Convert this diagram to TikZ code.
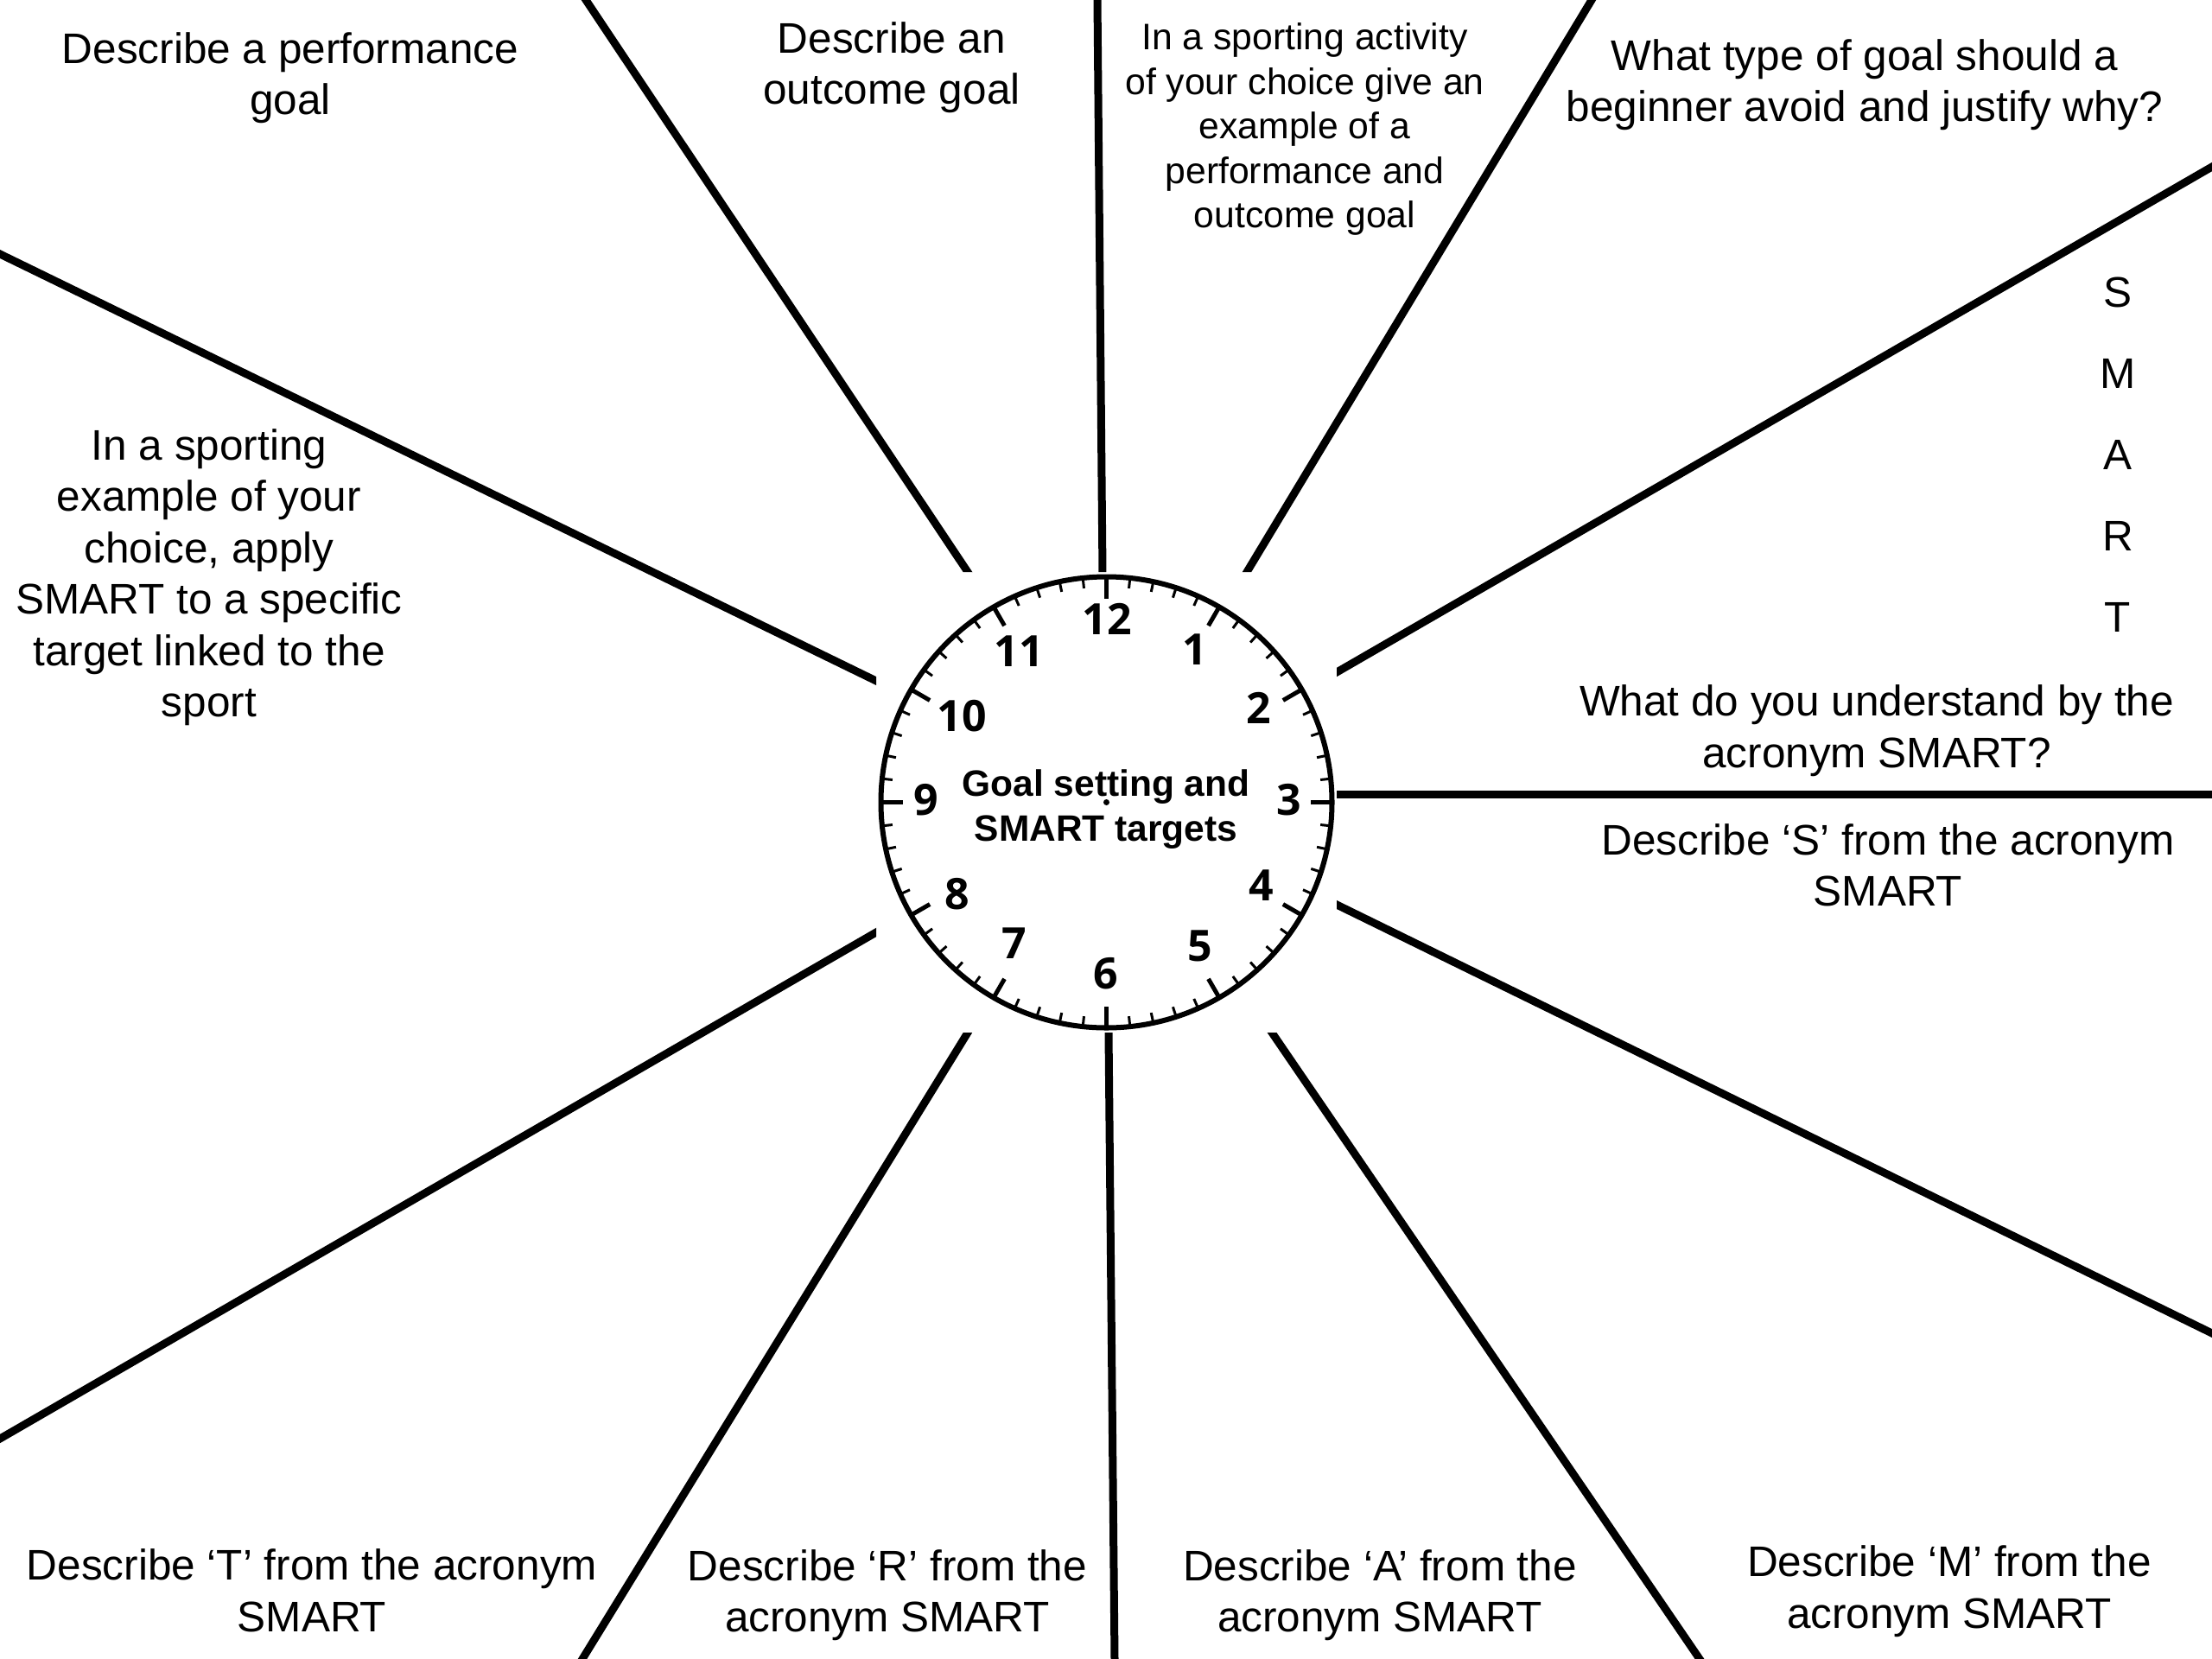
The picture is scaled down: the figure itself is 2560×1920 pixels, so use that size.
\documentclass[tikz,border=0pt]{standalone}
\usepackage{fontspec}
\setmainfont{Liberation Sans}
\newfontfamily\clockfont{Open Sans}
\usetikzlibrary{calc}
\begin{document}
\begin{tikzpicture}[x=1pt,y=-1pt,
  divider/.style={line width=9pt, line cap=butt},
  qtext/.style={font=\fontsize{49.5}{59.5}\selectfont, align=center, inner sep=0pt},
  smalltext/.style={font=\fontsize{42.7}{51.5}\selectfont, align=center, inner sep=0pt},
  clocknum/.style={font=\clockfont\bfseries\fontsize{50}{50}\selectfont, inner sep=0pt},
  minortick/.style={line width=3pt, line cap=butt},
  hourtick/.style={line width=5pt, line cap=butt},
  rim/.style={line width=6pt}]
\useasboundingbox (0,0) rectangle (2560,1920);
\fill[white] (0,0) rectangle (2560,1920);

% dividing lines: outer ends and ends at the clock
\coordinate (o1) at (678,0);     \coordinate (i1) at (1120,662);
\coordinate (o2) at (1270,0);    \coordinate (i2) at (1276,664);
\coordinate (o3) at (1842,0);    \coordinate (i3) at (1443,662);
\coordinate (o4) at (2560,193);  \coordinate (i4) at (1547,778);
\coordinate (o5) at (2560,919);  \coordinate (i5) at (1547,919);
\coordinate (o6) at (2560,1543); \coordinate (i6) at (1547,1047);
\coordinate (o7) at (1967,1920); \coordinate (i7) at (1472,1195);
\coordinate (o8) at (1290,1920); \coordinate (i8) at (1283,1195);
\coordinate (o9) at (674,1920);  \coordinate (i9) at (1120,1195);
\coordinate (o10) at (0,1665);   \coordinate (i10) at (1014,1079);
\coordinate (o11) at (0,294);    \coordinate (i11) at (1014,788);

\begin{scope}[even odd rule]
  \clip (0,0) rectangle (2560,1920) (1547,662) rectangle (1014,1195);
  \foreach \k in {1,...,11}{
    \draw[divider] ($(i\k)!1.05!(o\k)$) -- ($(o\k)!1.15!(i\k)$);
  }
\end{scope}

% clock
\coordinate (c) at (1280.5,928.5);
\draw[rim] (c) circle[radius=261pt];
\foreach \m in {0,...,59}{
  \draw[minortick] ($(c)+(\m*6:261pt)$) -- ($(c)+(\m*6:249pt)$);
}
\foreach \h in {0,...,11}{
  \draw[hourtick] ($(c)+(\h*30:261pt)$) -- ($(c)+(\h*30:236pt)$);
}
\foreach \h/\px/\py in {12/1281/716.5, 1/1383/752, 2/1457/819, 3/1492/926,
                        4/1460/1025, 5/1388.6/1095, 6/1279.5/1127, 7/1174/1092,
                        8/1108/1035, 9/1072/926, 10/1113/829, 11/1179/754}{
  \node[clocknum] (n\h) at (\px,\py) {\h};
}
\fill (c) circle[radius=3.5pt];
\node[font=\bfseries\fontsize{42.5}{52}\selectfont, align=center, inner sep=0pt] (title) at (1280,937) {Goal setting and\\SMART targets};

% question texts
\node[qtext] (qa) at (336,90) {Describe a performance\\goal};
\node[qtext] (qb) at (1032,78) {Describe an\\outcome goal};
\node[smalltext] (qc) at (1510,149.5) {In a sporting activity\\of your choice give an\\example of a\\performance and\\outcome goal};
\node[qtext] (qd) at (2158,98) {What type of goal should a\\beginner avoid and justify why?};
\node[font=\fontsize{49.5}{94}\selectfont, align=center, inner sep=0pt] (qe) at (2451,526.5) {S\\M\\A\\R\\T};
\node[qtext] (qf) at (2172,845.5) {What do you understand by the\\acronym SMART?};
\node[qtext] (qg) at (2185,1001.5) {Describe ‘S’ from the acronym\\SMART};
\node[qtext] (qh) at (242,668) {In a sporting\\example of your\\choice, apply\\SMART to a specific\\target linked to the\\sport};
\node[qtext] (qi) at (361,1841) {Describe ‘T’ from the acronym\\SMART};
\node[qtext] (qj) at (1027,1846) {Describe ‘R’ from the\\acronym SMART};
\node[qtext] (qk) at (1597,1846) {Describe ‘A’ from the\\acronym SMART};
\node[qtext] (ql) at (2256,1841.5) {Describe ‘M’ from the\\acronym SMART};
\end{tikzpicture}
\end{document}
